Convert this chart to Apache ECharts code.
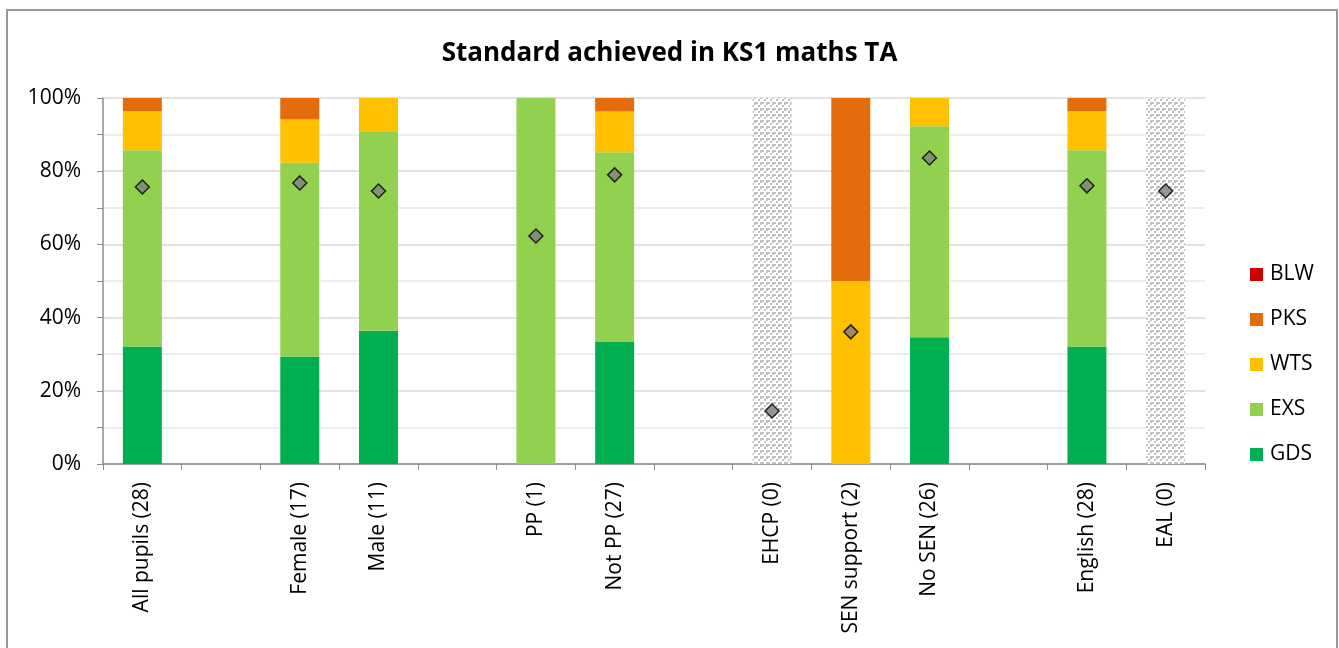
<!DOCTYPE html>
<html>
<head>
<meta charset="utf-8">
<script src="https://cdn.jsdelivr.net/npm/echarts@6/dist/echarts.min.js"></script>
<style>
  html, body { margin: 0; padding: 0; background: #fff; }
  #chart { width: 1339px; height: 648px; }
</style>
</head>
<body>
<div id="chart"></div>
<script>
// categories (blank slots are the gaps between groups)
const categories = ['All pupils (28)', ' ', 'Female (17)', 'Male (11)', '  ', 'PP (1)', 'Not PP (27)', '   ',
  'EHCP (0)', 'SEN support (2)', 'No SEN (26)', '    ', 'English (28)', 'EAL (0)']

// percentages per standard
const gds = [32.1, '-', 29.4, 36.4, '-', 0, 33.3, '-', 0, 0, 34.6, '-', 32.1, 0]
const exs = [53.6, '-', 52.9, 54.5, '-', 100, 51.9, '-', 0, 0, 57.7, '-', 53.6, 0]
const wts = [10.7, '-', 11.8, 9.1, '-', 0, 11.1, '-', 0, 50, 7.7, '-', 10.7, 0]
const pks = [3.6, '-', 5.9, 0, '-', 0, 3.7, '-', 0, 50, 0, '-', 3.6, 0]
const blw = [0, '-', 0, 0, '-', 0, 0, '-', 0, 0, 0, '-', 0, 0]

// groups with no pupils (shaded)
const noPupils = ['-', '-', '-', '-', '-', '-', '-', '-', 100, '-', '-', '-', '-', 100]

// comparison markers
const comparison = [75.7, '-', 76.8, 74.6, '-', 62.3, 79.0, '-', 14.5, 36.1, 83.6, '-', 76.0, 74.6]

const colors = { BLW: '#cc0000', PKS: '#e46c0a', WTS: '#ffc000', EXS: '#92d050', GDS: '#00b050' }

// dotted grey fill for empty groups
function makePattern() {
  const c = document.createElement('canvas')
  c.width = 6
  c.height = 6
  const ctx = c.getContext('2d')
  ctx.fillStyle = '#fff'
  ctx.fillRect(0, 0, 6, 6)
  ctx.fillStyle = '#c0c0c0'
  ctx.fillRect(0, 0, 2, 2)
  ctx.fillRect(2, 3, 2, 2)
  ctx.fillRect(4, 0, 2, 3)
  return c
}

const font = '"Open Sans", "Noto Sans", sans-serif'
const chart = echarts.init(document.getElementById('chart'))

function stackSeries(name, data) {
  return {
    name: name,
    type: 'bar',
    stack: 'std',
    barWidth: 39,
    data: data,
    itemStyle: { color: colors[name] },
    z: 3
  }
}

chart.setOption({
  animation: false,
  textStyle: { fontFamily: font },
  title: {
    text: 'Standard achieved in KS1 maths TA',
    left: 'center',
    top: 36,
    textStyle: { fontSize: 26, fontWeight: 'bold', color: '#000', fontFamily: font }
  },
  graphic: [{
    type: 'rect',
    shape: { x: 7, y: 10, width: 1330, height: 700 },
    style: { fill: 'none', stroke: '#999', lineWidth: 2 },
    silent: true
  }],
  legend: {
    orient: 'vertical',
    left: 1245,
    top: 259,
    itemWidth: 13,
    itemHeight: 13,
    itemGap: 24,
    icon: 'rect',
    data: ['BLW', 'PKS', 'WTS', 'EXS', 'GDS'],
    textStyle: { fontSize: 21, color: '#000', fontFamily: font, padding: [0, 0, 0, 2] }
  },
  grid: { left: 103, right: 134, top: 98, bottom: 184, containLabel: false },
  xAxis: {
    type: 'category',
    data: categories,
    axisLine: { lineStyle: { color: '#8c8c8c', width: 1.5 } },
    axisTick: { show: true, interval: 0, length: 6, lineStyle: { color: '#8c8c8c' } },
    axisLabel: { interval: 0, rotate: 90, fontSize: 21, color: '#000', margin: 18, fontFamily: font }
  },
  yAxis: {
    type: 'value',
    min: 0,
    max: 100,
    interval: 20,
    axisLine: { show: true, lineStyle: { color: '#8c8c8c', width: 1.5 } },
    axisTick: { show: true, length: 6, lineStyle: { color: '#8c8c8c' } },
    minorTick: { show: true, splitNumber: 2, length: 6, lineStyle: { color: '#8c8c8c' } },
    splitLine: { lineStyle: { color: '#d9d9d9', width: 1.5 } },
    minorSplitLine: { show: true, lineStyle: { color: '#e8e8e8', width: 1.5 } },
    axisLabel: { formatter: '{value}%', fontSize: 21, color: '#000', margin: 22, fontFamily: font }
  },
  series: [
    {
      name: 'none',
      type: 'bar',
      barWidth: 39,
      barGap: '-100%',
      data: noPupils,
      itemStyle: { color: { image: makePattern(), repeat: 'repeat' } },
      z: 2
    },
    stackSeries('GDS', gds),
    stackSeries('EXS', exs),
    stackSeries('WTS', wts),
    stackSeries('PKS', pks),
    stackSeries('BLW', blw),
    {
      name: 'comparison',
      type: 'scatter',
      symbol: 'diamond',
      symbolSize: 14,
      data: comparison,
      itemStyle: { color: '#7f7f7f', borderColor: '#000', borderWidth: 1.5 },
      z: 5
    }
  ]
})
</script>
</body>
</html>
